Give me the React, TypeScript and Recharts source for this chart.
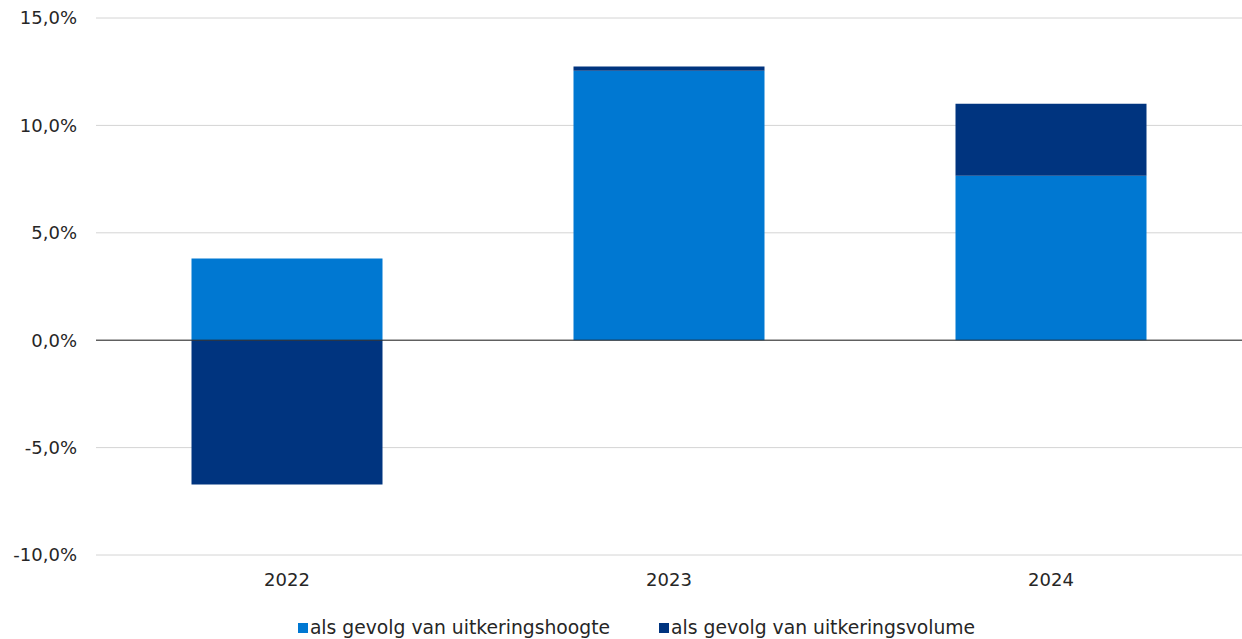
import { Bar, BarChart, CartesianGrid, Legend, ReferenceLine, XAxis, YAxis } from "recharts";

const years = ["2022", "2023", "2024"];
const hoogte = [3.8, 12.55, 7.66];
const volume = [-6.72, 0.19, 3.35];
const yTicks = [-10, -5, 0, 5, 10, 15];

const LIGHT = "#0078d2";
const DARK = "#00347f";
const FONT = "'DejaVu Sans', Verdana, sans-serif";

const data = years.map((year, i) => ({ year, hoogte: hoogte[i], volume: volume[i] }));

const formatPct = (v: number) => `${v.toFixed(1).replace(".", ",")}%`;

function ChartLegend() {
  const items = [
    { label: "als gevolg van uitkeringshoogte", color: LIGHT },
    { label: "als gevolg van uitkeringsvolume", color: DARK },
  ];
  return (
    <div
      style={{
        display: "flex",
        justifyContent: "center",
        gap: 49,
        fontFamily: FONT,
        fontSize: 18.75,
        color: "#262626",
        paddingLeft: 31,
        paddingTop: 8,
      }}
    >
      {items.map((it) => (
        <div key={it.label} style={{ display: "flex", alignItems: "center" }}>
          <span style={{ width: 10, height: 10, background: it.color, marginRight: 2 }} />
          <span>{it.label}</span>
        </div>
      ))}
    </div>
  );
}

export default function App() {
  return (
    <div style={{ position: "absolute", left: 0, top: 0, width: 1242, height: 639, background: "#fff" }}>
      <BarChart
        width={1242}
        height={639}
        data={data}
        stackOffset="sign"
        barCategoryGap="25%"
        margin={{ top: 18, right: 0, left: 0, bottom: 0 }}
      >
        <CartesianGrid vertical={false} stroke="#d4d4d4" />
        <XAxis
          dataKey="year"
          axisLine={false}
          tickLine={false}
          tickSize={0}
          tickMargin={18}
          height={54}
          tick={{ fill: "#262626", fontSize: 18, fontFamily: FONT }}
        />
        <YAxis
          domain={[-10, 15]}
          ticks={yTicks}
          tickFormatter={formatPct}
          axisLine={false}
          tickLine={false}
          tickSize={0}
          tickMargin={19}
          width={96}
          tick={{ fill: "#262626", fontSize: 18, fontFamily: FONT }}
        />
        <Legend verticalAlign="bottom" height={30} content={<ChartLegend />} />
        <Bar dataKey="hoogte" stackId="a" fill={LIGHT} isAnimationActive={false} />
        <Bar dataKey="volume" stackId="a" fill={DARK} isAnimationActive={false} />
        <ReferenceLine y={0} stroke="#262626" strokeWidth={1} />
      </BarChart>
    </div>
  );
}
